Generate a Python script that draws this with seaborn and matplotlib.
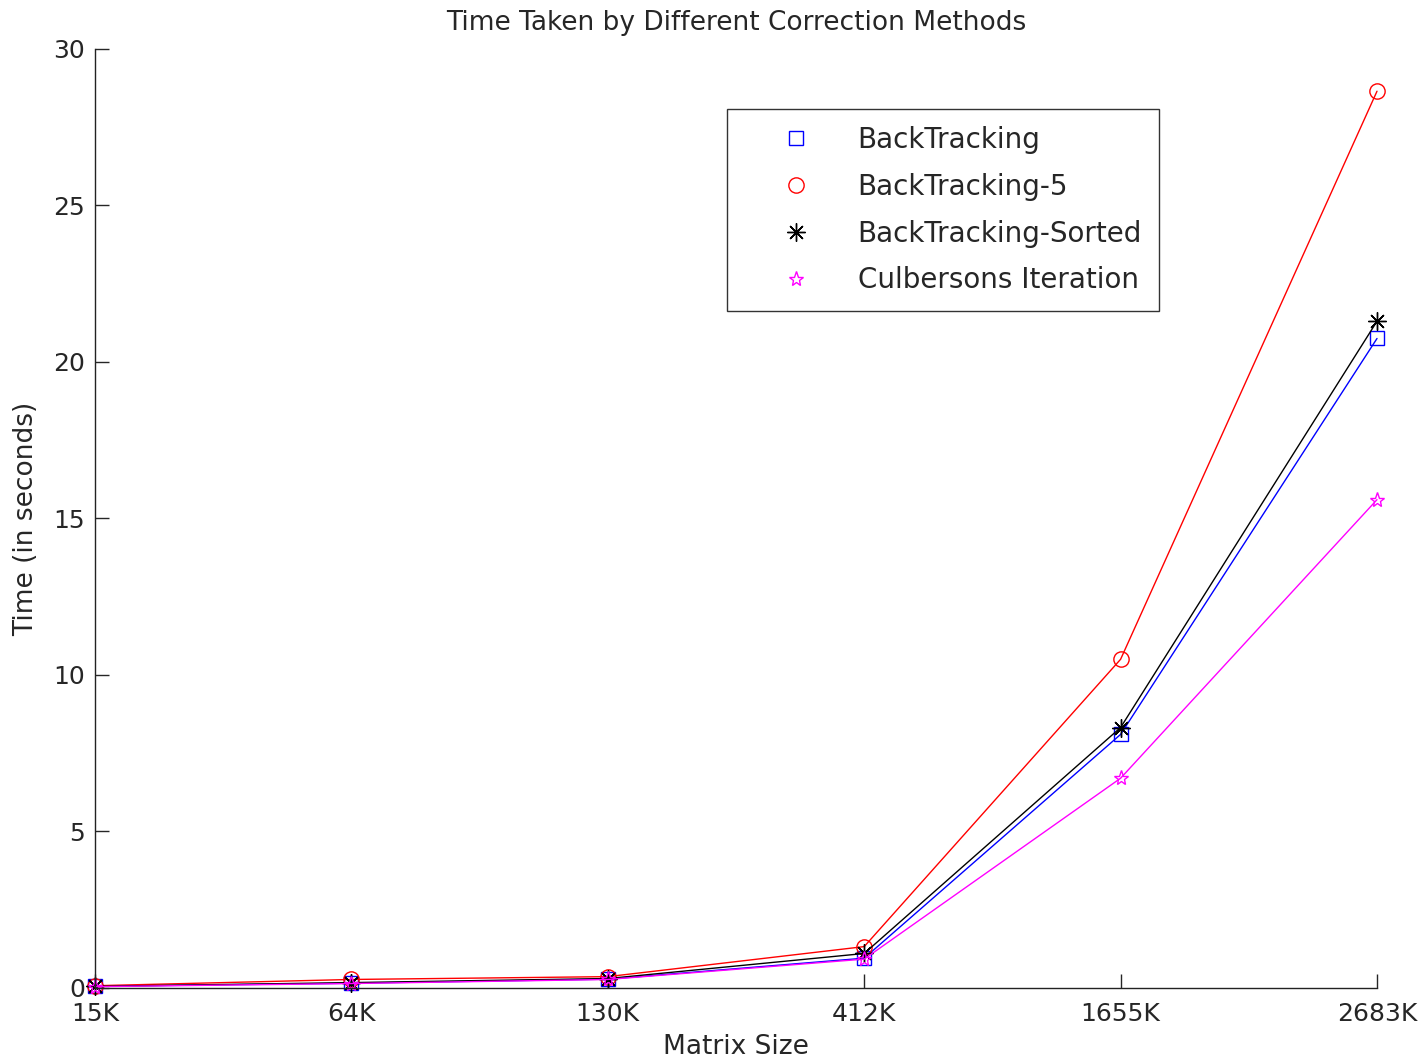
import numpy as np
import pandas as pd
import seaborn as sns
import matplotlib.pyplot as plt
from matplotlib.lines import Line2D

# data
sizes = ["15K", "64K", "130K", "412K", "1655K", "2683K"]
backtracking = [0.05, 0.15, 0.28, 0.95, 8.1, 20.75]
backtracking5 = [0.07, 0.27, 0.36, 1.32, 10.5, 28.65]
backtracking_sorted = [0.05, 0.17, 0.3, 1.1, 8.32, 21.3]
culbersons = [0.04, 0.14, 0.27, 0.92, 6.7, 15.6]

names = ["BackTracking", "BackTracking-5", "BackTracking-Sorted", "Culbersons Iteration"]
series = [backtracking, backtracking5, backtracking_sorted, culbersons]
colors = ["#0000ff", "#ff0000", "#000000", "#ff00ff"]
markers = ["s", "o", (8, 2, 0), "*"]
msizes = [10, 11, 13, 11]

sns.set_style("ticks")
plt.rcParams['font.family'] = ['DejaVu Sans']

fig = plt.figure(figsize=(14.24, 10.6), dpi=100)
ax = fig.add_axes([0.0667, 0.068, 0.9003, 0.8858])

pos = np.arange(len(sizes))
for name, vals, c, m, ms in zip(names, series, colors, markers, msizes):
    df = pd.DataFrame({"pos": pos, "time": vals})
    sns.lineplot(data=df, x="pos", y="time", ax=ax, color=c, marker=m,
                 markersize=ms, markerfacecolor="none", markeredgecolor=c,
                 markeredgewidth=1.0, linewidth=1.0, label=name, clip_on=False)

ax.set_xlim(0, len(sizes) - 1)
ax.set_ylim(0, 30)
ax.set_xticks(pos)
ax.set_xticklabels(sizes)
ax.set_yticks(range(0, 31, 5))
ax.tick_params(direction="in", length=10, width=1, labelsize=18)
ax.tick_params(axis="x", pad=10)
ax.tick_params(axis="y", pad=7)
sns.despine(ax=ax)
for s in ["left", "bottom"]:
    ax.spines[s].set_linewidth(1.0)
    ax.spines[s].set_color("#222222")

ax.set_xlabel("Matrix Size", fontsize=19, labelpad=6)
ax.set_ylabel("Time (in seconds)", fontsize=19, labelpad=10)
ax.set_title("Time Taken by Different Correction Methods", fontsize=19, pad=14)

handles = [Line2D([], [], linestyle="none", marker=m, color=c, markerfacecolor="none",
                  markeredgewidth=1.0, markersize=ms)
           for c, m, ms in zip(colors, markers, msizes)]
leg = ax.legend(handles, names, loc="upper left", bbox_to_anchor=(0.493, 0.936),
                fontsize=20, frameon=True, fancybox=False, edgecolor="black",
                handlelength=3.8, handletextpad=0.3, borderpad=0.6, labelspacing=0.68,
                borderaxespad=0)
leg.get_frame().set_linewidth(1.0)

fig.savefig("out.png", dpi=100)
